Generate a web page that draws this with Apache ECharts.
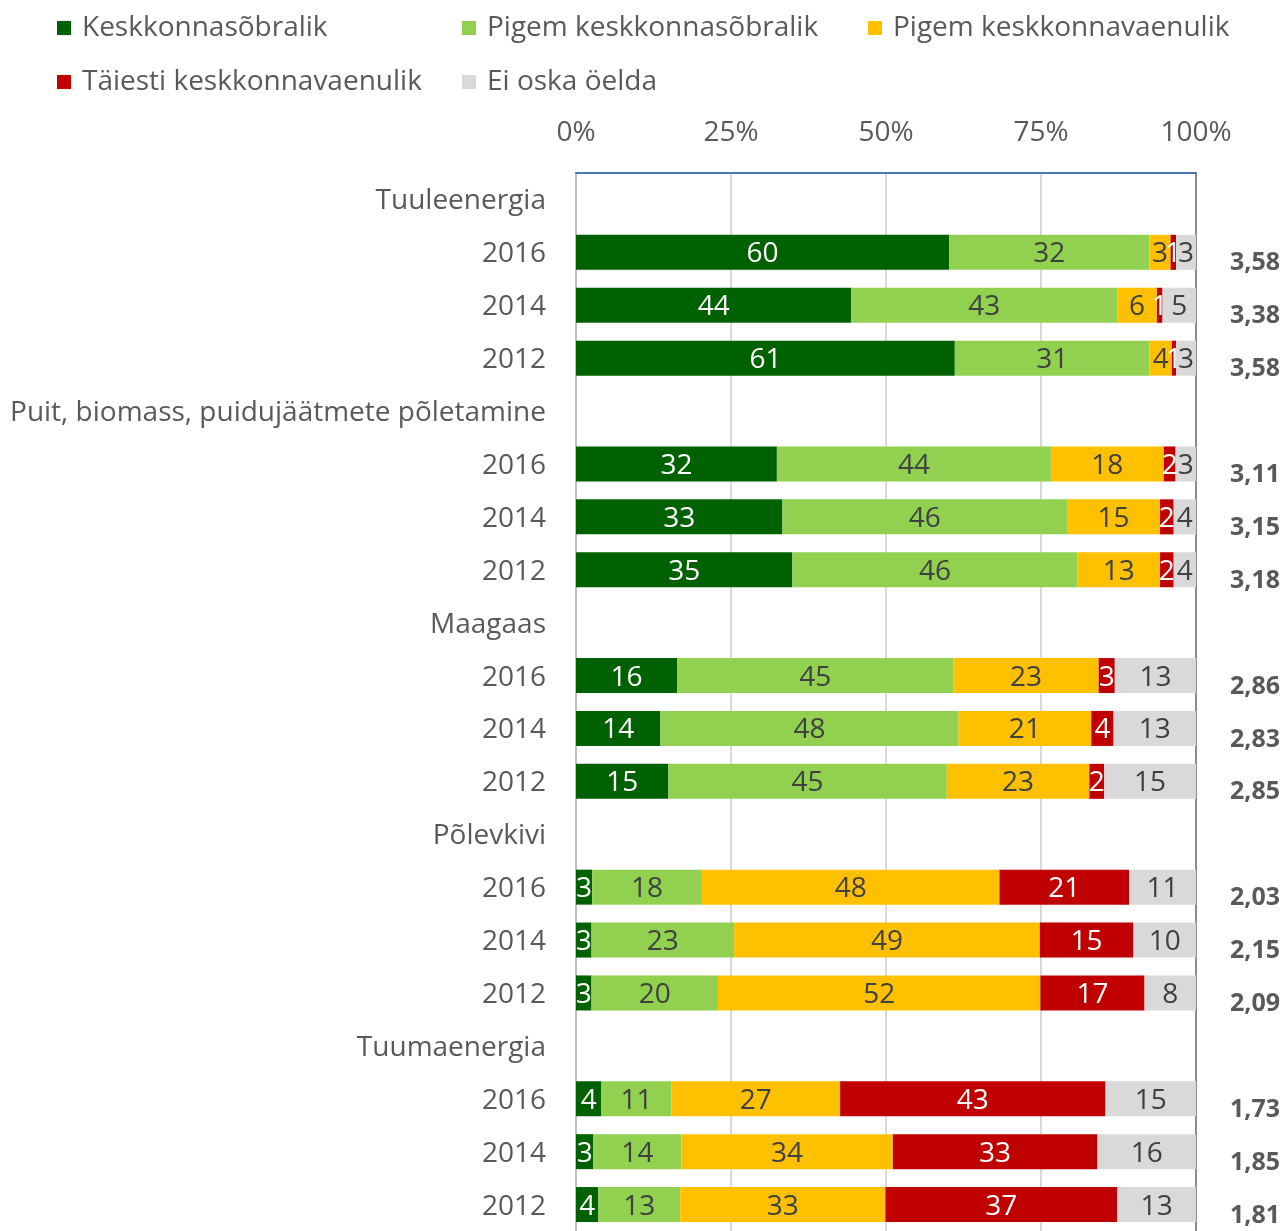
<!DOCTYPE html>
<html>
<head>
<meta charset="utf-8">
<script src="https://cdn.jsdelivr.net/npm/echarts@6/dist/echarts.min.js"></script>
<style>
html,body{margin:0;padding:0;background:#fff;}
#chart{width:1285px;height:1231px;}
</style>
</head>
<body>
<div id="chart"></div>
<script>
const rowLabels = ['Tuuleenergia','2016','2014','2012',
  'Puit, biomass, puidujäätmete põletamine','2016','2014','2012',
  'Maagaas','2016','2014','2012',
  'Põlevkivi','2016','2014','2012',
  'Tuumaenergia','2016','2014','2012'];
const seriesNames = ['Keskkonnasõbralik','Pigem keskkonnasõbralik','Pigem keskkonnavaenulik','Täiesti keskkonnavaenulik','Ei oska öelda'];
const sobralik        = [null,60.2,44.4,61.1, null,32.4,33.3,34.9, null,16.3,13.6,14.9, null,2.6,2.5,2.5,   null,4.1,2.8,3.6];
const pigemSobralik   = [null,32.3,42.9,31.4, null,44.2,45.9,46.0, null,44.6,48.1,44.9, null,17.7,23.0,20.4, null,11.3,14.2,13.2];
const pigemVaenulik   = [null,3.4,6.4,3.6,    null,18.2,15.0,13.3, null,23.4,21.4,23.0, null,48.0,49.3,52.0, null,27.2,34.1,33.1];
const taiestiVaenulik = [null,0.9,0.9,0.7,    null,1.9,2.2,2.2,    null,2.6,3.6,2.4,    null,20.9,15.1,16.8, null,42.8,33.0,37.4];
const eiOska          = [null,3.2,5.4,3.2,    null,3.3,3.6,3.6,    null,13.1,13.3,14.8, null,10.8,10.1,8.3,  null,14.6,15.9,12.7];
const means = ['','3,58','3,38','3,58', '','3,11','3,15','3,18', '','2,86','2,83','2,85', '','2,03','2,15','2,09', '','1,73','1,85','1,81'];
const xTicks = [0,25,50,75,100];

const FONT = 'Open Sans';
const FS = 28;
const colors = ['#006100','#92D050','#FFC000','#C00000','#D9D9D9'];
const labelColors = ['#ffffff','#404040','#404040','#ffffff','#404040'];
const allData = [sobralik,pigemSobralik,pigemVaenulik,taiestiVaenulik,eiOska];

const legendPos = [[52,9],[457,9],[863,9],[52,63],[457,63]];
const legends = seriesNames.map((n,i)=>({
  data:[n], left:legendPos[i][0], top:legendPos[i][1], icon:'rect',
  itemWidth:14, itemHeight:14, itemGap:0,
  textStyle:{fontSize:FS, color:'#595959', fontFamily:FONT, padding:[0,0,0,6]}
}));

const chart = echarts.init(document.getElementById('chart'), null, {renderer:'canvas'});
chart.setOption({
  animation:false,
  backgroundColor:'#ffffff',
  legend: legends,
  grid:{left:576, top:173, width:620, height:1063, containLabel:false},
  xAxis:{
    type:'value', position:'top', min:0, max:100, interval:25,
    axisLine:{show:true, lineStyle:{color:'#4A76B8', width:2}},
    axisTick:{show:false},
    axisLabel:{formatter:v=> xTicks.includes(v) ? v+'%' : '', fontSize:FS, color:'#595959', fontFamily:FONT, margin:26},
    splitLine:{show:true, lineStyle:{color:'#D9D9D9', width:2}}
  },
  yAxis:[{
    type:'category', inverse:true, data:rowLabels,
    axisLine:{show:true, lineStyle:{color:'#BFBFBF', width:2}},
    axisTick:{show:false},
    axisLabel:{margin:30, formatter:v=> '{c|'+v+'}',
      rich:{c:{fontSize:FS, color:'#595959', fontFamily:FONT, padding:[4,0,0,0]}}}
  },{
    type:'category', inverse:true, position:'right', data:means,
    axisLine:{show:true, lineStyle:{color:'#8C8C8C', width:2}},
    axisTick:{show:false},
    axisLabel:{margin:34, formatter:v=> v ? '{m|'+v+'}' : '',
      rich:{m:{fontSize:25, color:'#595959', fontWeight:'bold', fontFamily:FONT, padding:[22,0,0,0]}}}
  }],
  series: allData.map((d,i)=>({
    name:seriesNames[i], type:'bar', stack:'total', yAxisIndex:0,
    data:d, barWidth:35,
    itemStyle:{color:colors[i]},
    label:{show:true, position:'inside', offset:[0,2], fontSize:FS, fontFamily:FONT, color:labelColors[i],
      formatter:p=> p.value==null ? '' : String(Math.round(p.value))},
    emphasis:{disabled:true}
  }))
});
</script>
</body>
</html>
